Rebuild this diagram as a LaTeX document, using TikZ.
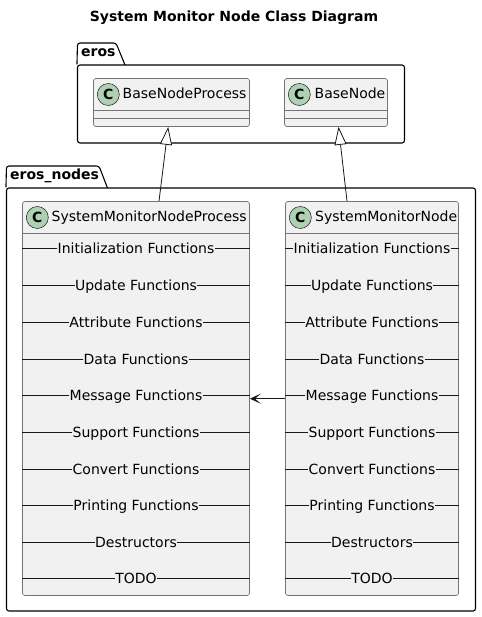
\documentclass[tikz,border=0pt]{standalone}
\usepackage{fontspec}
\setmainfont{DejaVu Sans}
\usetikzlibrary{arrows.meta}
\definecolor{softgrey}{RGB}{241,241,241}
\definecolor{softgreen}{RGB}{173,209,178}
\definecolor{softblack}{RGB}{24,24,24}
\begin{document}
\begin{tikzpicture}[
    x=1pt,
    y=-1pt,
    title/.style={
        font=\fontsize{14}{16}\selectfont\bfseries,
        inner sep=0pt
    },
    package/.style={
        draw=black,
        line width=1.1pt,
        rounded corners=2.5pt,
        inner sep=0pt
    },
    tabline/.style={
        draw=black,
        line width=1.1pt,
        rounded corners=2.5pt
    },
    tab/.style={
        font=\fontsize{14}{16}\selectfont\bfseries,
        anchor=west,
        inner sep=0pt
    },
    class/.style={
        draw=black!55,
        line width=0.7pt,
        rounded corners=2.5pt,
        fill=softgrey,
        inner sep=0pt
    },
    spot/.style={
        circle,
        draw=softblack,
        line width=0.5pt,
        fill=softgreen,
        minimum size=22pt,
        inner sep=0pt,
        font=\fontsize{14}{16}\selectfont\bfseries
    },
    classname/.style={
        font=\fontsize{14}{16}\selectfont,
        text height=11pt,
        text depth=3pt,
        anchor=west,
        inner sep=0pt
    },
    divider/.style={draw=black!55, line width=0.7pt},
    section/.style={
        font=\fontsize{14}{16}\selectfont,
        text height=12pt,
        text depth=2pt,
        inner sep=0pt,
        append after command={
            (\tikzlastnode.west) edge[rule] (\tikzlastnode.west -| #1.west)
            (\tikzlastnode.east) edge[rule] (\tikzlastnode.east -| #1.east)
        }
    },
    rule/.style={draw=softblack, line width=0.8pt},
    extends/.style={
        draw=softblack,
        line width=0.8pt,
        -{Triangle[open,fill=white,length=18pt,width=12pt]}
    },
    uses/.style={
        draw=softblack,
        line width=0.8pt,
        -{Stealth[length=11pt,width=10pt,inset=6pt]}
    }
]
\useasboundingbox (0,0) rectangle (481,617);

\node[title] (diagram) at (234,18) {System Monitor Node Class Diagram};

% PACKAGES
\node[package, minimum width=327pt, minimum height=78pt] (eros) at (241,104) {};
\draw[tabline] (eros.north west) -- (77.5,43) -- (116,43) -- (125,65);
\node[tab] (erostab) at (81,53) {eros};

\node[package, minimum width=469pt, minimum height=423pt] (nodes) at (241,399.5) {};
\draw[tabline] (nodes.north west) -- (6.5,166) -- (99,166) -- (107.5,188);
\node[tab] (nodestab) at (10,176) {eros\_nodes};

% BASE CLASSES
\node[class, minimum width=156pt, minimum height=48pt] (baseprocess) at (171.5,102.5) {};
\node[spot] (baseprocessspot) at (108.3,94.5) {C};
\node[classname] (baseprocessname) at (122.5,95) {BaseNodeProcess};
\draw[divider] ([yshift=-32pt]baseprocess.north west) -- ([yshift=-32pt]baseprocess.north east);
\draw[divider] ([yshift=-40pt]baseprocess.north west) -- ([yshift=-40pt]baseprocess.north east);

\node[class, minimum width=103pt, minimum height=48pt] (base) at (336,102.5) {};
\node[spot] (basespot) at (299.3,94.5) {C};
\node[classname] (basename) at (314.5,95) {BaseNode};
\draw[divider] ([yshift=-32pt]base.north west) -- ([yshift=-32pt]base.north east);
\draw[divider] ([yshift=-40pt]base.north west) -- ([yshift=-40pt]base.north east);

% SYSTEM MONITOR PROCESS
\node[class, minimum width=227pt, minimum height=394pt] (process) at (136,398.5) {};
\node[spot] (processspot) at (37.3,217.5) {C};
\node[classname] (processname) at (51.5,217.7) {SystemMonitorNodeProcess};
\draw[divider] ([yshift=-32pt]process.north west) -- ([yshift=-32pt]process.north east);

\node[section=process] (processinit) at (136,248.5) {Initialization Functions};
\node[section=process] (processupdate) at (136,285.5) {Update Functions};
\node[section=process] (processattr) at (136,322.5) {Attribute Functions};
\node[section=process] (processdata) at (136,359.5) {Data Functions};
\node[section=process] (processmsg) at (136,395.5) {Message Functions};
\node[section=process] (processsupport) at (136,432.5) {Support Functions};
\node[section=process] (processconvert) at (136,469.5) {Convert Functions};
\node[section=process] (processprint) at (136,505.5) {Printing Functions};
\node[section=process] (processdestruct) at (136,542.5) {Destructors};
\node[section=process] (processtodo) at (136,578.5) {TODO};

% SYSTEM MONITOR NODE
\node[class, minimum width=173pt, minimum height=394pt] (monitor) at (372,398.5) {};
\node[spot] (monitorspot) at (300.3,217.5) {C};
\node[classname] (monitorname) at (315,217.7) {SystemMonitorNode};
\draw[divider] ([yshift=-32pt]monitor.north west) -- ([yshift=-32pt]monitor.north east);

\node[section=monitor] (monitorinit) at (372,248.5) {Initialization Functions};
\node[section=monitor] (monitorupdate) at (372,285.5) {Update Functions};
\node[section=monitor] (monitorattr) at (372,322.5) {Attribute Functions};
\node[section=monitor] (monitordata) at (372,359.5) {Data Functions};
\node[section=monitor] (monitormsg) at (372,395.5) {Message Functions};
\node[section=monitor] (monitorsupport) at (372,432.5) {Support Functions};
\node[section=monitor] (monitorconvert) at (372,469.5) {Convert Functions};
\node[section=monitor] (monitorprint) at (372,505.5) {Printing Functions};
\node[section=monitor] (monitordestruct) at (372,542.5) {Destructors};
\node[section=monitor] (monitortodo) at (372,578.5) {TODO};

% RELATIONS
\draw[extends] ([xshift=23pt]process.north) -- ([xshift=-3.3pt]baseprocess.south);
\draw[extends] ([xshift=-25pt]monitor.north) -- ([xshift=2.5pt]base.south);
\draw[uses] ([yshift=-0.2pt]monitor.west) -- ([yshift=-0.2pt]process.east);

\end{tikzpicture}
\end{document}
